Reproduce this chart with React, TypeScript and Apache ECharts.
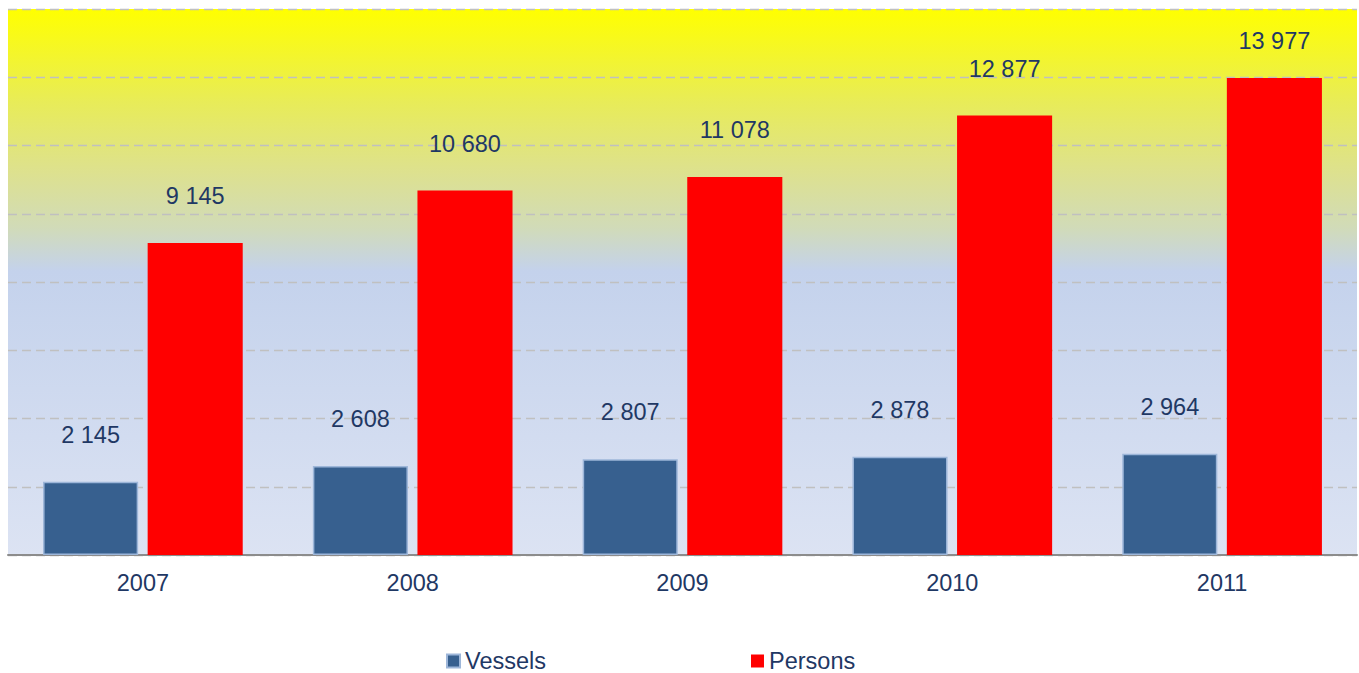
import React, { useEffect, useRef } from "react";
import * as echarts from "echarts";

const years = ["2007", "2008", "2009", "2010", "2011"];
const vessels = [2145, 2608, 2807, 2878, 2964];
const persons = [9145, 10680, 11078, 12877, 13977];

const fmt = (v: number) => {
  const s = String(Math.round(v));
  return s.replace(/\B(?=(\d{3})+(?!\d))/g, " ");
};

export default function App() {
  const ref = useRef<HTMLDivElement>(null);
  useEffect(() => {
    if (!ref.current) return;
    const chart = echarts.init(ref.current, undefined, { renderer: "svg" });
    const textColor = "#1f3864";
    const font = "'Liberation Sans', Arial, sans-serif";
    const fs = 23.5;
    const labelBase = {
      show: true,
      position: "top" as const,
      distance: 35,
      fontSize: fs,
      color: textColor,
      fontFamily: font,
      formatter: (p: any) => fmt(p.value),
    };
    const maxVal = 16000;
    const personsData = persons.map((v) =>
      v > maxVal * 0.85 ? { value: v, label: { distance: 25 } } : v
    );
    chart.setOption({
      animation: false,
      grid: {
        left: 8,
        right: 2,
        top: 9,
        bottom: 118,
        show: true,
        borderWidth: 0,
        backgroundColor: {
          type: "linear",
          x: 0,
          y: 0,
          x2: 0,
          y2: 1,
          colorStops: [
            { offset: 0, color: "#ffff00" },
            { offset: 0.17, color: "#e8ec58" },
            { offset: 0.3, color: "#dde18f" },
            { offset: 0.4, color: "#d1dbb8" },
            { offset: 0.48, color: "#c4d2ec" },
            { offset: 1, color: "#dce3f3" },
          ],
        },
      },
      legend: {
        left: 441,
        top: 644,
        itemWidth: 13,
        itemHeight: 13,
        itemGap: 205,
        icon: "rect",
        textStyle: { fontSize: fs, color: textColor, fontFamily: font },
        data: ["Vessels", "Persons"],
      },
      xAxis: {
        type: "category",
        data: years,
        axisLine: { show: true, lineStyle: { color: "#8c8c8c", width: 2 } },
        axisTick: { show: false },
        axisLabel: { fontSize: fs, color: textColor, fontFamily: font, margin: 16 },
      },
      yAxis: {
        type: "value",
        min: 0,
        max: maxVal,
        interval: 2000,
        axisLabel: { show: false },
        axisLine: { show: false },
        axisTick: { show: false },
        splitLine: { show: true, lineStyle: { color: "#c0c0c0", type: [9, 5], width: 1.3 } },
      },
      series: [
        {
          name: "Vessels",
          type: "bar",
          data: vessels,
          barGap: "10%",
          barCategoryGap: "26%",
          itemStyle: { color: "#37608f", borderColor: "#9db6d9", borderWidth: 1.5 },
          label: labelBase,
        },
        {
          name: "Persons",
          type: "bar",
          data: personsData,
          itemStyle: { color: "#ff0000" },
          label: labelBase,
        },
      ],
    });
    return () => chart.dispose();
  }, []);
  return (
    <div
      ref={ref}
      style={{ position: "fixed", left: 0, top: 0, width: 1359, height: 673, background: "#ffffff" }}
    />
  );
}
